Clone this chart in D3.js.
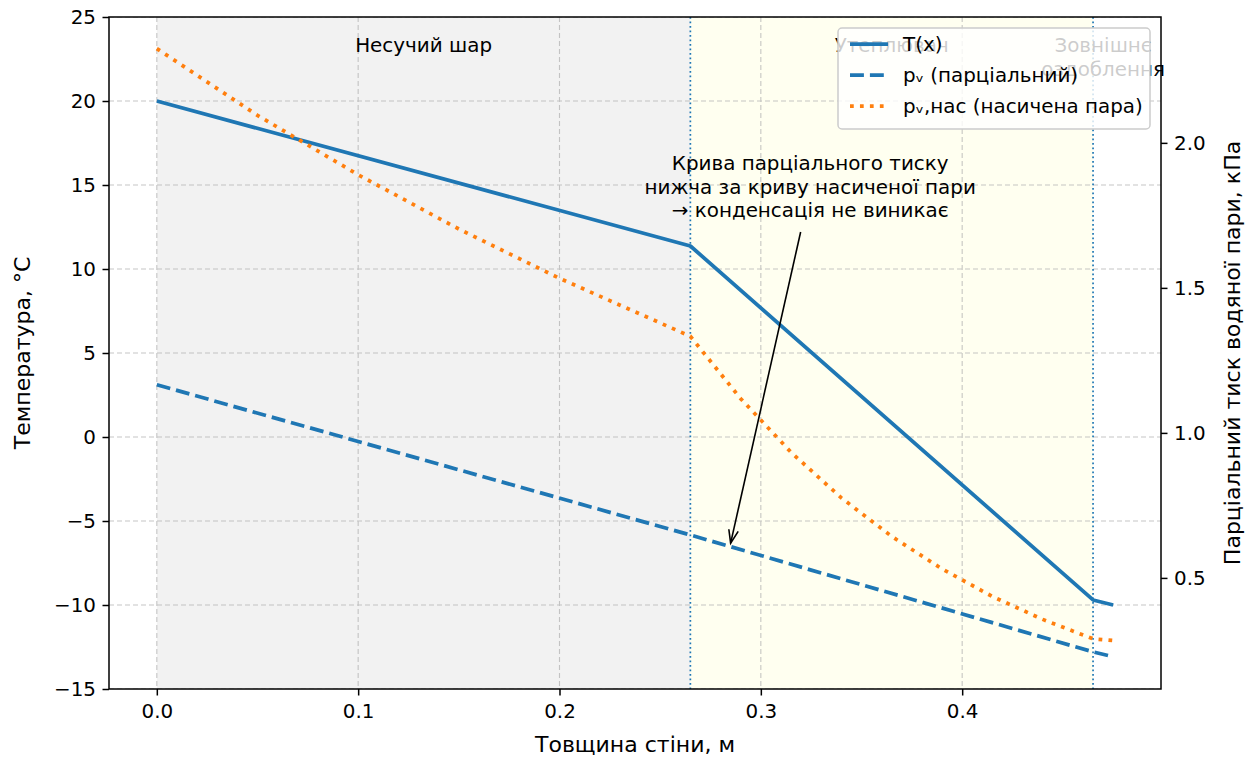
<!DOCTYPE html>
<html>
<head>
<meta charset="utf-8">
<script src="https://cdn.jsdelivr.net/npm/d3@7"></script>
<style>
  body { margin: 0; background: #fff; }
  svg { display: block; font-family: "DejaVu Sans", sans-serif; }
</style>
</head>
<body>
<svg id="chart" width="1253" height="757"></svg>
<script>
// ---------- data ----------
const tempX = [0, 0.265, 0.465, 0.475];
const temperature = [20.0, 11.37, -9.7, -10.0];

const pvX = [0, 0.265, 0.465, 0.475];
const pvPartial = [1.166, 0.648, 0.245, 0.228];

const psatX = [0, 0.05, 0.1, 0.15, 0.2, 0.265, 0.29, 0.315, 0.34, 0.365, 0.39, 0.415, 0.44, 0.465, 0.475];
const psat = [2.325, 2.095, 1.890, 1.703, 1.533, 1.333, 1.118, 0.933, 0.776, 0.643, 0.531, 0.436, 0.357, 0.290, 0.284];

const layerNames = [["Несучий шар"], ["Утеплювач"], ["Зовнішнє", "оздоблення"]];
const layerBounds = [0, 0.265, 0.465, 0.475];
const layerColors = ["#f2f2f2", "#fffff0", "#ffffff"];

const xTicks = [0.0, 0.1, 0.2, 0.3, 0.4];
const yLeftTicks = [-15, -10, -5, 0, 5, 10, 15, 20, 25];
const yRightTicks = [0.5, 1.0, 1.5, 2.0];

const legendLabels = ["T(x)", "pᵥ (парціальний)", "pᵥ,нас (насичена пара)"];
const annotationLines = ["Крива парціального тиску", "нижча за криву насиченої пари", "→ конденсація не виникає"];
const annotationTarget = [0.285, 0.62];   // x (m), p (kPa)
const annotationTextAt = [0.3245, 16.3];  // x (m), T-axis units (centre of first line)

// ---------- layout ----------
const L = 109, R = 1161, T = 17, B = 689;
const C0 = "#1f77b4", C1 = "#ff7f0e";
const FS = 19.9;
const LFS = 22;

const svg = d3.select("#chart");
const x = d3.scaleLinear().domain([-0.02375, 0.49875]).range([L, R]);
const yL = d3.scaleLinear().domain([-15, 25]).range([B, T]);
const yR = d3.scaleLinear().domain([0.117, 2.434]).range([B, T]);

svg.append("defs").append("clipPath").attr("id", "clip")
  .append("rect").attr("x", L).attr("y", T).attr("width", R - L).attr("height", B - T);

const plot = svg.append("g").attr("clip-path", "url(#clip)");

// layer backgrounds
plot.selectAll("rect.layer").data(layerColors).join("rect")
  .attr("class", "layer")
  .attr("x", (d, i) => x(layerBounds[i]))
  .attr("width", (d, i) => x(layerBounds[i + 1]) - x(layerBounds[i]))
  .attr("y", T).attr("height", B - T)
  .attr("fill", d => d);

// grid
const grid = plot.append("g").attr("stroke", "#b0b0b0").attr("stroke-width", 1.1)
  .attr("stroke-dasharray", "5,3").attr("opacity", 0.7);
grid.selectAll("line.gx").data(xTicks).join("line")
  .attr("x1", d => x(d)).attr("x2", d => x(d)).attr("y1", T).attr("y2", B);
grid.selectAll("line.gy").data(yLeftTicks).join("line")
  .attr("y1", d => yL(d)).attr("y2", d => yL(d)).attr("x1", L).attr("x2", R);

// boundary lines
plot.selectAll("line.bound").data(layerBounds.slice(1, 3)).join("line")
  .attr("x1", d => x(d)).attr("x2", d => x(d)).attr("y1", T).attr("y2", B)
  .attr("stroke", C0).attr("stroke-width", 1.7).attr("stroke-dasharray", "1.7,2.8");

// curves
const lineT = d3.line().x((d, i) => x(tempX[i])).y(d => yL(d));
const lineP = arr => d3.line().x((d, i) => x(arr[i])).y(d => yR(d));

plot.append("path").datum(temperature).attr("d", lineT)
  .attr("fill", "none").attr("stroke", C0).attr("stroke-width", 3.75).attr("stroke-linejoin", "round");
plot.append("path").datum(pvPartial).attr("d", lineP(pvX))
  .attr("fill", "none").attr("stroke", C0).attr("stroke-width", 3.75).attr("stroke-dasharray", "13.9,6");
plot.append("path").datum(psat).attr("d", lineP(psatX))
  .attr("fill", "none").attr("stroke", C1).attr("stroke-width", 3.75).attr("stroke-dasharray", "3.75,6.2");

// axes
const fmtX = d3.format(".1f");
svg.append("g").attr("transform", `translate(0,${B})`)
  .call(d3.axisBottom(x).tickValues(xTicks).tickFormat(fmtX).tickSizeOuter(0).tickSize(6.5).tickPadding(8))
  .call(g => g.select(".domain").remove());
svg.append("g").attr("transform", `translate(${L},0)`)
  .call(d3.axisLeft(yL).tickValues(yLeftTicks).tickFormat(d3.format("d")).tickSizeOuter(0).tickSize(6.5).tickPadding(6.5))
  .call(g => g.select(".domain").remove());
svg.append("g").attr("transform", `translate(${R},0)`)
  .call(d3.axisRight(yR).tickValues(yRightTicks).tickFormat(fmtX).tickSizeOuter(0).tickSize(6.5).tickPadding(6.5))
  .call(g => g.select(".domain").remove());
svg.selectAll(".tick text").attr("font-size", FS).attr("font-family", "DejaVu Sans").attr("fill", "#000");
svg.selectAll(".tick line").attr("stroke", "#000").attr("stroke-width", 1.5);

// frame
svg.append("rect").attr("x", L).attr("y", T).attr("width", R - L).attr("height", B - T)
  .attr("fill", "none").attr("stroke", "#000").attr("stroke-width", 1.5);

// axis labels
svg.append("text").attr("x", (L + R) / 2).attr("y", 752).attr("text-anchor", "middle")
  .attr("font-size", LFS).text("Товщина стіни, м");
svg.append("text").attr("transform", `translate(30,${(T + B) / 2}) rotate(-90)`).attr("text-anchor", "middle")
  .attr("font-size", LFS).text("Температура, °C");
svg.append("text").attr("transform", `translate(1240,${(T + B) / 2}) rotate(-90)`).attr("text-anchor", "middle")
  .attr("font-size", LFS).text("Парціальний тиск водяної пари, кПа");

// layer labels
layerNames.forEach((lines, i) => {
  const cx = x((layerBounds[i] + layerBounds[i + 1]) / 2);
  const t = svg.append("text").attr("text-anchor", "middle").attr("font-size", FS).attr("fill", "#000");
  lines.forEach((s, j) => t.append("tspan").attr("x", cx).attr("y", 52 + j * 23.5).text(s));
});

// annotation
const ann = svg.append("text").attr("text-anchor", "middle").attr("font-size", FS).attr("fill", "#000");
annotationLines.forEach((s, j) => ann.append("tspan")
  .attr("x", x(annotationTextAt[0])).attr("y", yL(annotationTextAt[1]) + 7 + j * 23.5).text(s));
const ax0 = x(annotationTarget[0]) + 70, ay0 = 232;
const ax1 = x(annotationTarget[0]), ay1 = yR(annotationTarget[1]);
svg.append("line").attr("x1", ax0).attr("y1", ay0).attr("x2", ax1).attr("y2", ay1)
  .attr("stroke", "#000").attr("stroke-width", 1.6);
{
  const ang = Math.atan2(ay1 - ay0, ax1 - ax0);
  const hl = 14, hw = 0.35;
  const p1 = [ax1 - hl * Math.cos(ang - hw), ay1 - hl * Math.sin(ang - hw)];
  const p2 = [ax1 - hl * Math.cos(ang + hw), ay1 - hl * Math.sin(ang + hw)];
  svg.append("path").attr("d", `M${p1}L${ax1},${ay1}L${p2}`)
    .attr("fill", "none").attr("stroke", "#000").attr("stroke-width", 1.6);
}

// legend
const lg = svg.append("g");
lg.append("rect").attr("x", 838).attr("y", 28).attr("width", 312).attr("height", 101)
  .attr("rx", 4).attr("fill", "#fff").attr("fill-opacity", 0.8).attr("stroke", "#cccccc").attr("stroke-width", 1.5);
const styles = [
  { c: C0, dash: null }, { c: C0, dash: "13.9,6" }, { c: C1, dash: "3.75,6.2" }
];
legendLabels.forEach((s, i) => {
  const yy = 44 + i * 31;
  lg.append("line").attr("x1", 850).attr("x2", 888).attr("y1", yy).attr("y2", yy)
    .attr("stroke", styles[i].c).attr("stroke-width", 3.75).attr("stroke-dasharray", styles[i].dash);
  lg.append("text").attr("x", 903).attr("y", yy + 7).attr("font-size", FS).text(s);
});
</script>
</body>
</html>
